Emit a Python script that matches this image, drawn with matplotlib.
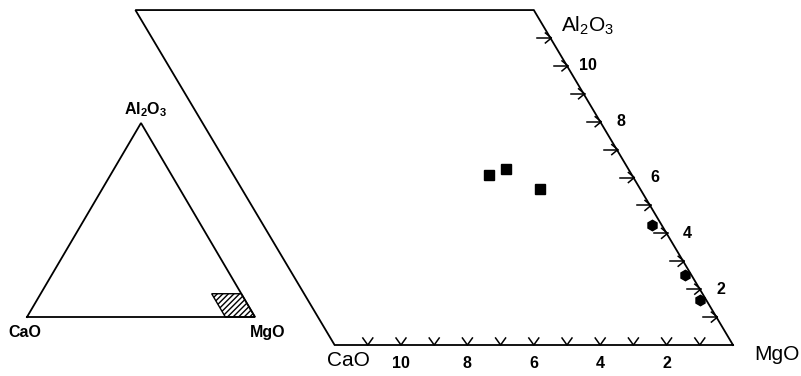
import matplotlib
matplotlib.use('Agg')
import matplotlib.pyplot as plt
import numpy as np

plt.rcParams['font.family'] = ['Liberation Sans', 'DejaVu Sans']
plt.rcParams['mathtext.fontset'] = 'custom'
plt.rcParams['mathtext.rm'] = 'Liberation Sans'
plt.rcParams['mathtext.bf'] = 'Liberation Sans:bold'

# Datos (% en peso): CaO y Al2O3, el resto es MgO
cuadrados_cao = [4.3, 3.7, 3.0]
cuadrados_al = [6.1, 6.3, 5.6]
puntos_cao = [0.3, 0.2, 0.2]
puntos_al = [4.3, 2.5, 1.6]

rango = 12            # ventana de la esquina MgO
marcas = list(range(1, 12))
etiquetas = [2, 4, 6, 8, 10]

R3 = np.sqrt(3) / 2


def cart(cao, al, mgo_x=0.0):
    # coordenadas ternarias -> cartesianas (MgO en mgo_x, CaO a la izquierda)
    cao = np.asarray(cao, dtype=float)
    al = np.asarray(al, dtype=float)
    return mgo_x - cao - al / 2, al * R3


fig = plt.figure(figsize=(8.01, 3.76), dpi=100)

# ---- diagrama principal (esquina MgO ampliada) ----
ax = fig.add_axes([0, 0, 1, 1])
sx, sy = 33.2, 32.23            # pixeles por unidad
ax.set_xlim(-733 / sx, 68 / sx)
ax.set_ylim(-31 / sy, 345 / sy)
ax.axis('off')
px, py = 1 / sx, 1 / sy

bx, by = cart([0, rango, rango, 0, 0], [0, 0, rango, rango, 0])
ax.plot(bx, by, color='black', lw=1.3, solid_joinstyle='miter')

# marcas en V sobre el eje CaO
for c in marcas:
    x0, y0 = cart(c, 0)
    ax.plot([x0 - 5 * px, x0, x0 + 5 * px], [y0 + 7 * py, y0, y0 + 7 * py],
            color='black', lw=1.1)
# flechas sobre el eje Al2O3
for a in marcas:
    x0, y0 = cart(0, a)
    ax.plot([x0 - 13 * px, x0 + 1 * px], [y0, y0], color='black', lw=1.1)
    ax.plot([x0 - 5 * px, x0 + 1 * px, x0 - 5 * px],
            [y0 + 5 * py, y0, y0 - 5 * py], color='black', lw=1.1)

for e in etiquetas:
    x0, y0 = cart(e, 0)
    ax.text(x0, y0 - 18 * py, str(e), ha='center', va='center',
            fontsize=11.5, fontweight='bold')
    x0, y0 = cart(0, e)
    ax.text(x0 + 21 * px, y0, str(e), ha='center', va='center',
            fontsize=11.5, fontweight='bold')

x0, y0 = cart(rango, 0)
ax.text(x0 + 14 * px, y0 - 16 * py, 'CaO', ha='center', va='center', fontsize=15)
ax.text(44 * px, y0 - 10 * py, 'MgO', ha='center', va='center', fontsize=15)
x0, y0 = cart(0, rango)
ax.text(x0 + 54 * px, y0 - 16 * py, r'Al$_2$O$_3$', ha='center', va='center',
        fontsize=15)

x, y = cart(cuadrados_cao, cuadrados_al)
ax.plot(x, y, 's', color='black', ms=6.5, ls='none')
x, y = cart(puntos_cao, puntos_al)
ax.plot(x, y, 'h', color='black', ms=7.5, ls='none')

# ---- triangulo completo (recuadro) ----
ax2 = fig.add_axes([0, 0, 1, 1])
tx, ty = 2.28, 2.24
ax2.set_xlim(-27 / tx, 774 / tx)
ax2.set_ylim(-59 / ty, 317 / ty)
ax2.axis('off')
ax2.patch.set_alpha(0)

tx_, ty_ = cart([100, 0, 0, 100], [0, 0, 100, 0], mgo_x=100)
ax2.plot(tx_, ty_, color='black', lw=1.3, solid_joinstyle='miter')

hx, hy = cart([0, 13, 13, 0], [0, 0, 12, 12], mgo_x=100)
ax2.fill(hx, hy, facecolor='white', edgecolor='black', hatch='//////', lw=1.0)

ax2.text(-1, -7, 'CaO', ha='center', va='center', fontsize=11.5, fontweight='bold')
ax2.text(105.5, -7, 'MgO', ha='center', va='center', fontsize=11.5, fontweight='bold')
ax2.text(52, 92.5, r'$\mathbf{Al_2O_3}$', ha='center', va='center', fontsize=11.5)

fig.savefig('out.png', dpi=100)
